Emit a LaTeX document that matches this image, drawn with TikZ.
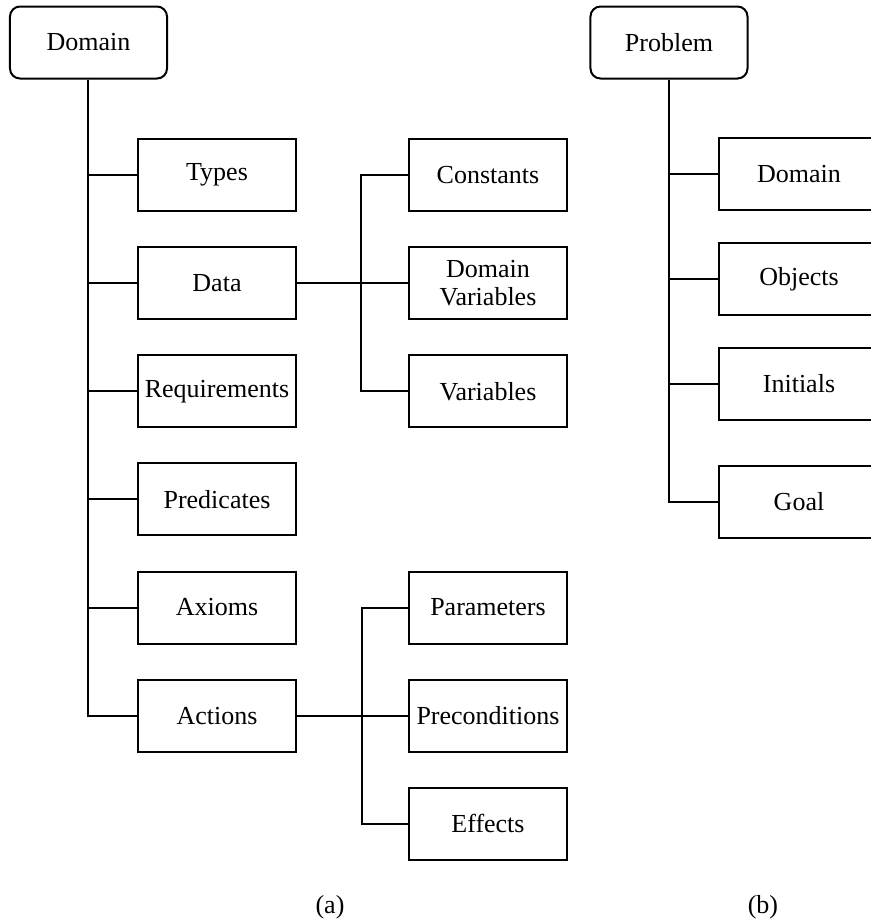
\documentclass[tikz,border=0pt]{standalone}
\usepackage{fontspec}
\setmainfont{Liberation Serif}
\usetikzlibrary{positioning}

\begin{document}
\begin{tikzpicture}[
    x=0.4pt, y=-0.4pt,
    font=\fontsize{10.4}{11.5}\selectfont,
    line width=0.8pt,
    node distance=13.65pt and 44.4pt,
    root/.style={rectangle, draw, rounded corners=4pt, minimum width=62.8pt, minimum height=28.8pt, inner sep=0pt},
    item/.style={rectangle, draw, minimum width=63.2pt, minimum height=28.8pt, inner sep=0pt, align=center},
    pitem/.style={item, minimum width=64pt},
    link/.style={draw=black},
]
    \clip (0,0) rectangle (871,923);

    % (a) domain tree
    \node[root] (dom) at (88.5,42.5) {Domain};
    \node[item] (types) at (217,175) {Types};
    \node[item, below=of types] (data) {Data};
    \node[item, below=of data] (req) {Requirements};
    \node[item, below=of req] (pred) {Predicates};
    \node[item, below=of pred] (axioms) {Axioms};
    \node[item, below=of axioms] (act) {Actions};

    \node[item, right=of types] (const) {Constants};
    \node[item, below=of const] (dvar) {Domain\\Variables};
    \node[item, below=of dvar] (vars) {Variables};

    \node[item, right=of axioms] (params) {Parameters};
    \node[item, below=of params] (precond) {Preconditions};
    \node[item, below=of precond] (eff) {Effects};

    \coordinate[right=25.6pt of data.east] (dj);
    \coordinate[right=26pt of act.east] (aj);

    \draw[link] (dom.south) -- (dom.south |- act.west) -- (act.west);
    \foreach \n in {types, data, req, pred, axioms}
        \draw[link] (dom.south |- \n.west) -- (\n.west);
    \draw[link] (data.east) -- (dvar.west);
    \draw[link] (const.west) -| (dj) |- (vars.west);
    \draw[link] (act.east) -- (precond.west);
    \draw[link] (params.west) -| (aj) |- (eff.west);

    % (b) problem tree
    \node[root] (prob) at (669,42.5) {Problem};
    \node[pitem] (pdom) at (799,174) {Domain};
    \node[pitem, below=12.4pt of pdom] (objs) {Objects};
    \node[pitem, below=12.4pt of objs] (inits) {Initials};
    \node[pitem, below=17.6pt of inits] (goal) {Goal};

    \draw[link] (prob.south) -- (prob.south |- goal.west) -- (goal.west);
    \foreach \n in {pdom, objs, inits}
        \draw[link] (prob.south |- \n.west) -- (\n.west);

    % captions
    \node (capa) at (330,907) {(a)};
    \node (capb) at (763,907) {(b)};
\end{tikzpicture}
\end{document}
